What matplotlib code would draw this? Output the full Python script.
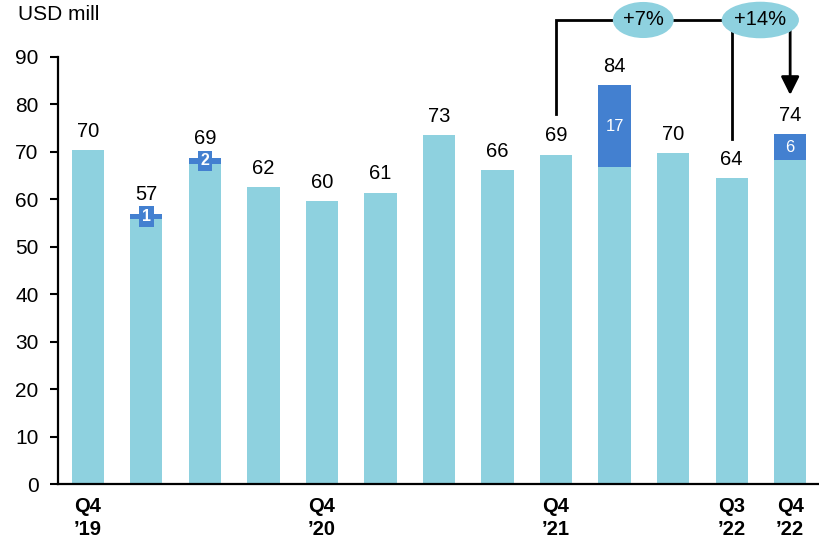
import matplotlib
matplotlib.use('Agg')
import matplotlib.pyplot as plt
from matplotlib.patches import Ellipse

plt.rcParams['font.family'] = ['Liberation Sans', 'DejaVu Sans']

# ---- data ----
quarters = ["Q4 '19", "Q1 '20", "Q2 '20", "Q3 '20", "Q4 '20", "Q1 '21", "Q2 '21",
            "Q3 '21", "Q4 '21", "Q1 '22", "Q2 '22", "Q3 '22", "Q4 '22"]
tick_labels = ["Q4\n\u201919", "", "", "", "Q4\n\u201920", "", "", "",
               "Q4\n\u201921", "", "", "Q3\n\u201922", "Q4\n\u201922"]
base_values = [70.3, 55.9, 67.4, 62.5, 59.6, 61.3, 73.5, 66.1, 69.3, 66.9, 69.7, 64.4, 68.2]
extra_values = [0, 1.1, 1.4, 0, 0, 0, 0, 0, 0, 17.1, 0, 0, 5.5]
total_labels = ["70", "57", "69", "62", "60", "61", "73", "66", "69", "84", "70", "64", "74"]
extra_labels = ["", "1", "2", "", "", "", "", "", "", "17", "", "", "6"]
growth_labels = ["+7%", "+14%"]
y_ticks = [0, 10, 20, 30, 40, 50, 60, 70, 80, 90]

LIGHT = "#8ED1DF"
DARK = "#4380D0"

fig = plt.figure(figsize=(8.2, 5.42), dpi=100)
ax = fig.add_axes([58 / 820, 1 - 484 / 542, 1 - 58 / 820, (484 - 57) / 542])

x = list(range(len(quarters)))
width = 0.55
ax.bar(x, base_values, width=width, color=LIGHT, edgecolor='none')
ax.bar(x, extra_values, width=width, bottom=base_values, color=DARK, edgecolor='none')

for i in x:
    top = base_values[i] + extra_values[i]
    ax.annotate(total_labels[i], (i, top), xytext=(0, 7), textcoords='offset points',
                ha='center', va='bottom', fontsize=14.5, color='black')
    if extra_labels[i]:
        mid = base_values[i] + extra_values[i] / 2
        if extra_values[i] < 3:
            ax.text(i, mid, extra_labels[i], ha='center', va='center', fontsize=11.5,
                    fontweight='bold', color='white',
                    bbox=dict(boxstyle='square,pad=0.18', facecolor=DARK, edgecolor='none'))
        else:
            ax.text(i, mid, extra_labels[i], ha='center', va='center', fontsize=12,
                    color='white')

ax.set_xlim(-0.51, 12.51)
ax.set_ylim(0, 90)
ax.set_yticks(y_ticks)
ax.set_yticklabels([str(t) for t in y_ticks], fontsize=15)
ax.set_xticks(x)
ax.set_xticklabels(tick_labels, fontsize=14.5, fontweight='bold', linespacing=1.3)
ax.tick_params(axis='x', length=0, pad=9)
ax.tick_params(axis='y', length=6, width=1.5, direction='out', pad=8)
for s in ['top', 'right']:
    ax.spines[s].set_visible(False)
for s in ['left', 'bottom']:
    ax.spines[s].set_linewidth(1.6)
    ax.spines[s].set_color('black')

# bracket annotation
top_y = 97.8
lw = 2.0
ax.plot([8, 8, 12], [78.0, top_y, top_y], color='black', lw=lw, clip_on=False,
        solid_joinstyle='miter', zorder=3)
ax.plot([11, 11], [72.8, top_y], color='black', lw=lw, clip_on=False, zorder=3)
ax.annotate('', xy=(12, 82.0), xytext=(12, top_y + 0.2),
            arrowprops=dict(arrowstyle='-|>,head_length=1.1,head_width=0.55',
                            color='black', lw=lw, shrinkA=0, shrinkB=0),
            annotation_clip=False, zorder=3)

ell_x = [9.49, 11.49]
ell_w = [1.04, 1.32]
ell_h = [7.6, 7.7]
for cx, w, h, lab in zip(ell_x, ell_w, ell_h, growth_labels):
    e = Ellipse((cx, top_y), w, h, facecolor=LIGHT, edgecolor='none', clip_on=False, zorder=4)
    ax.add_patch(e)
    ax.text(cx, top_y, lab, ha='center', va='center', fontsize=14.5, zorder=5)

fig.text(18 / 820, 1 - 15 / 542, 'USD mill', ha='left', va='center', fontsize=15)

fig.savefig('out.png', dpi=100)
